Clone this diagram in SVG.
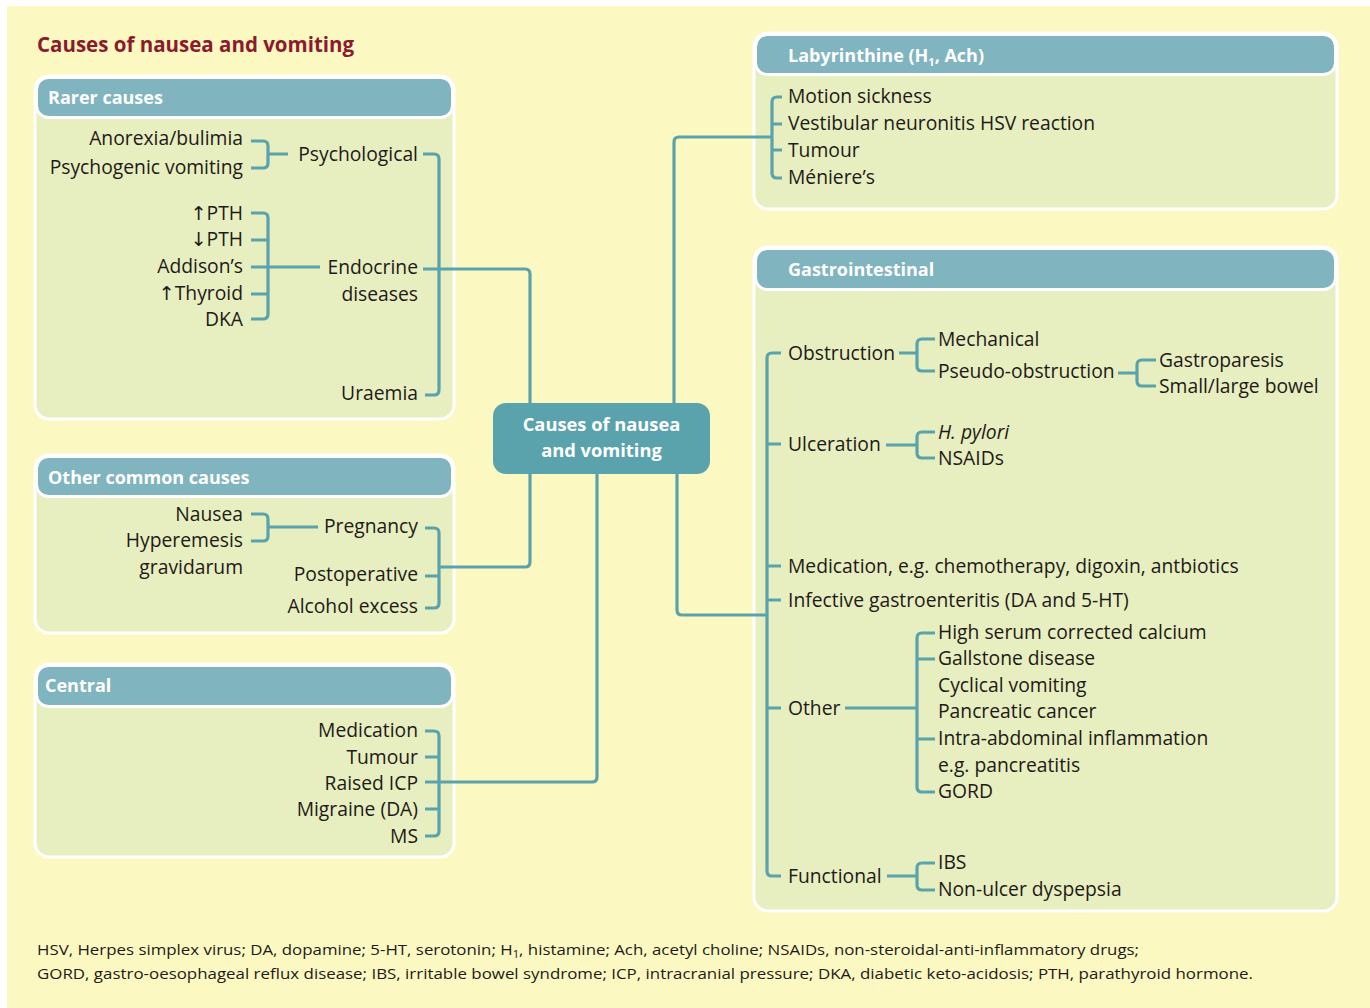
<svg xmlns="http://www.w3.org/2000/svg" width="1370" height="1008" viewBox="0 0 1370 1008">
<style>
.bg{fill:#FBF8C2}
.panel{fill:#E7EEBF;stroke:#FFFFFF;stroke-width:3}
.hdr{fill:#80B4BF;stroke:#FFFFFF;stroke-width:3}
.ht{font-family:"Open Sans","Noto Sans",sans-serif;font-weight:bold;font-size:18px;fill:#FFFFFF}
.t{font-family:"Open Sans","Noto Sans","DejaVu Sans",sans-serif;font-size:19.3px;fill:#1E1A18}
.e{text-anchor:end}
.ln{fill:none;stroke:#5AA3AC;stroke-width:3.2;stroke-linecap:butt;stroke-linejoin:round}
.title{font-family:"Open Sans","Noto Sans",sans-serif;font-weight:bold;font-size:20.5px;fill:#8C1A2C}
.ct{font-family:"Open Sans","Noto Sans",sans-serif;font-weight:bold;font-size:18.3px;fill:#FFFFFF;text-anchor:middle}
.fn{font-family:"Open Sans","Noto Sans",sans-serif;font-size:15px;fill:#1E1A18}
</style>
<rect x="0" y="0" width="1370" height="1008" fill="#FFFFFF"/>
<rect class="bg" x="7" y="6" width="1363" height="1002"/>
<text class="title" x="37" y="52">Causes of nausea and vomiting</text>

<g id="rarer">
<rect class="panel" x="35" y="76" width="419" height="343" rx="14"/>
<rect class="hdr" x="36.5" y="77.5" width="416" height="40" rx="12"/>
<text class="ht" x="48" y="104">Rarer causes</text>
<text class="t e" x="243" y="145">Anorexia/bulimia</text>
<text class="t e" x="243" y="174">Psychogenic vomiting</text>
<text class="t e" x="243" y="220">↑PTH</text>
<text class="t e" x="243" y="246">↓PTH</text>
<text class="t e" x="243" y="273">Addison’s</text>
<text class="t e" x="243" y="300">↑Thyroid</text>
<text class="t e" x="243" y="326">DKA</text>
<text class="t e" x="418" y="161">Psychological</text>
<text class="t e" x="418" y="274">Endocrine</text>
<text class="t e" x="418" y="301">diseases</text>
<text class="t e" x="418" y="400">Uraemia</text>
</g>

<g id="other">
<rect class="panel" x="35" y="455" width="419" height="178" rx="14"/>
<rect class="hdr" x="36.5" y="456.5" width="416" height="40" rx="12"/>
<text class="ht" x="48" y="484">Other common causes</text>
<text class="t e" x="243" y="521">Nausea</text>
<text class="t e" x="243" y="547">Hyperemesis</text>
<text class="t e" x="243" y="574">gravidarum</text>
<text class="t e" x="418" y="533">Pregnancy</text>
<text class="t e" x="418" y="581">Postoperative</text>
<text class="t e" x="418" y="613">Alcohol excess</text>
</g>

<g id="central">
<rect class="panel" x="35" y="664" width="419" height="193" rx="14"/>
<rect class="hdr" x="36.5" y="665.5" width="416" height="41" rx="12"/>
<text class="ht" x="45" y="692">Central</text>
<text class="t e" x="418" y="737">Medication</text>
<text class="t e" x="418" y="764">Tumour</text>
<text class="t e" x="418" y="790">Raised ICP</text>
<text class="t e" x="418" y="816">Migraine (DA)</text>
<text class="t e" x="418" y="843">MS</text>
</g>

<g id="labyrinthine">
<rect class="panel" x="754" y="33" width="583" height="176" rx="14"/>
<rect class="hdr" x="755.5" y="34.5" width="580" height="40" rx="12"/>
<text class="ht" x="788" y="62">Labyrinthine (H<tspan font-size="11" dy="4">1</tspan><tspan dy="-4">, Ach)</tspan></text>
<text class="t" x="788" y="103">Motion sickness</text>
<text class="t" x="788" y="130">Vestibular neuronitis HSV reaction</text>
<text class="t" x="788" y="157">Tumour</text>
<text class="t" x="788" y="184">Méniere’s</text>
</g>

<g id="gastrointestinal">
<rect class="panel" x="754" y="247" width="583" height="664" rx="14"/>
<rect class="hdr" x="755.5" y="248.5" width="580" height="41" rx="12"/>
<text class="ht" x="788" y="276">Gastrointestinal</text>
<text class="t" x="788" y="360">Obstruction</text>
<text class="t" x="938" y="346">Mechanical</text>
<text class="t" x="938" y="378">Pseudo-obstruction</text>
<text class="t" x="1159" y="367">Gastroparesis</text>
<text class="t" x="1159" y="393">Small/large bowel</text>
<text class="t" x="788" y="451">Ulceration</text>
<text class="t" x="938" y="439" font-style="italic">H. pylori</text>
<text class="t" x="938" y="465">NSAIDs</text>
<text class="t" x="788" y="573">Medication, e.g. chemotherapy, digoxin, antbiotics</text>
<text class="t" x="788" y="607">Infective gastroenteritis (DA and 5-HT)</text>
<text class="t" x="788" y="715">Other</text>
<text class="t" x="938" y="639">High serum corrected calcium</text>
<text class="t" x="938" y="665">Gallstone disease</text>
<text class="t" x="938" y="692">Cyclical vomiting</text>
<text class="t" x="938" y="718">Pancreatic cancer</text>
<text class="t" x="938" y="745">Intra-abdominal inflammation</text>
<text class="t" x="938" y="772">e.g. pancreatitis</text>
<text class="t" x="938" y="798">GORD</text>
<text class="t" x="788" y="883">Functional</text>
<text class="t" x="938" y="869">IBS</text>
<text class="t" x="938" y="896">Non-ulcer dyspepsia</text>
</g>

<g id="connectors">
<path class="ln" d="M423,269 H525 Q530,269 530,274 V404"/>
<path class="ln" d="M423,154 H434 Q439,154 439,159 V390 Q439,395 434,395 H425"/>
<path class="ln" d="M251,141 H263 Q268,141 268,146 V163 Q268,168 263,168 H251 M268,154 H288"/>
<path class="ln" d="M251,213 H263 Q268,213 268,218 V314 Q268,319 263,319 H251 M251,240 H268 M251,267 H320 M251,294 H268"/>
<path class="ln" d="M674,404 V142 Q674,137 679,137 H772"/>
<path class="ln" d="M782,97 H777 Q772,97 772,102 V173 Q772,178 777,178 H782 M772,124 H782 M772,150 H782"/>
<path class="ln" d="M530,473 V562 Q530,567 525,567 H439"/>
<path class="ln" d="M425,528 H434 Q439,528 439,533 V603 Q439,608 434,608 H425 M425,576 H439"/>
<path class="ln" d="M251,514 H263 Q268,514 268,519 V536 Q268,541 263,541 H251 M268,527 H318"/>
<path class="ln" d="M597,473 V777 Q597,782 592,782 H425"/>
<path class="ln" d="M425,731 H434 Q439,731 439,736 V831 Q439,836 434,836 H425 M425,757 H439 M425,809 H439"/>
<path class="ln" d="M677,473 V610 Q677,615 682,615 H767"/>
<path class="ln" d="M781,353 H772 Q767,353 767,358 V871 Q767,876 772,876 H781 M767,444 H781 M767,566 H781 M767,600 H781 M767,708 H781"/>
<path class="ln" d="M899,353 H917 M935,339 H922 Q917,339 917,344 V366 Q917,371 922,371 H935"/>
<path class="ln" d="M1118,373 H1137 M1156,360 H1142 Q1137,360 1137,365 V381 Q1137,386 1142,386 H1156"/>
<path class="ln" d="M886,445 H917 M935,432 H922 Q917,432 917,437 V453 Q917,458 922,458 H935"/>
<path class="ln" d="M845,708 H917 M935,633 H922 Q917,633 917,638 V787 Q917,792 922,792 H935 M917,659 H935 M917,739 H935"/>
<path class="ln" d="M887,876 H917 M935,863 H922 Q917,863 917,868 V885 Q917,890 922,890 H935"/>
</g>

<g id="center">
<rect x="493" y="403" width="217" height="71" rx="13" fill="#5AA3AC"/>
<text class="ct" x="601.5" y="431">Causes of nausea</text>
<text class="ct" x="601.5" y="457">and vomiting</text>
</g>

<g id="footnote">
<text class="fn" x="37" y="955" textLength="1102" lengthAdjust="spacingAndGlyphs">HSV, Herpes simplex virus; DA, dopamine; 5-HT, serotonin; H<tspan font-size="10" dy="3">1</tspan><tspan dy="-3">, histamine; Ach, acetyl choline; NSAIDs, non-steroidal-anti-inflammatory drugs;</tspan></text>
<text class="fn" x="37" y="979" textLength="1216" lengthAdjust="spacingAndGlyphs">GORD, gastro-oesophageal reflux disease; IBS, irritable bowel syndrome; ICP, intracranial pressure; DKA, diabetic keto-acidosis; PTH, parathyroid hormone.</text>
</g>
</svg>
